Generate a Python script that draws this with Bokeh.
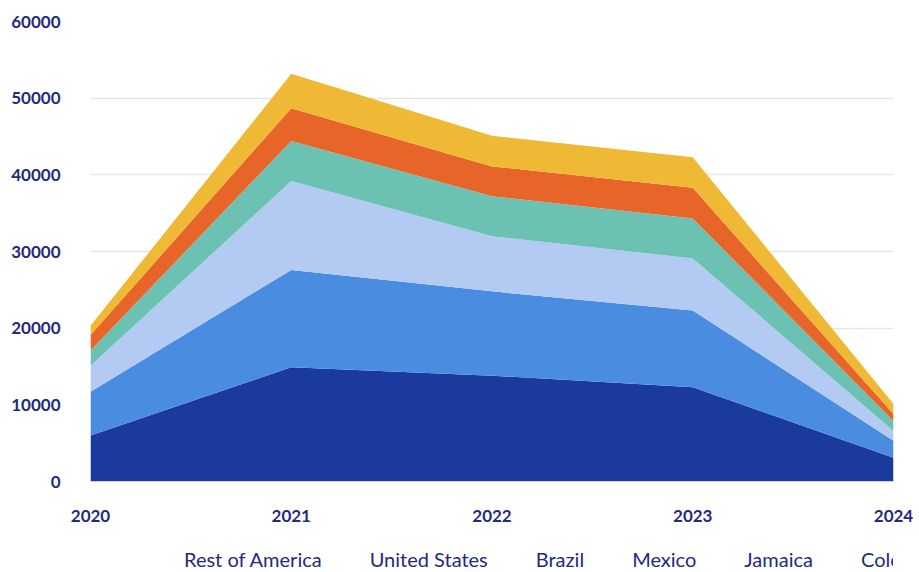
from bokeh.plotting import figure
from bokeh.layouts import column
from bokeh.models import Legend, LegendItem, FixedTicker, NumeralTickFormatter, ColumnDataSource
from bokeh.embed import file_html
from bokeh.resources import INLINE

years = [2020, 2021, 2022, 2023, 2024]
series_names = ["Rest of America", "United States", "Brazil", "Mexico", "Jamaica", "Colombia"]
rest_of_america = [6000, 14900, 13800, 12300, 3100]
united_states = [5700, 12700, 11000, 10000, 2200]
brazil = [3400, 11600, 7200, 6800, 1300]
mexico = [2000, 5200, 5200, 5200, 1300]
jamaica = [2000, 4300, 3900, 4000, 900]
colombia = [1200, 4500, 4000, 4000, 1300]
colors = ["#1a3a9e", "#4a8de0", "#b3caf2", "#6cc2b2", "#e8652a", "#f0b935"]
y_ticks = [0, 10000, 20000, 30000, 40000, 50000, 60000]

data = {"year": years}
for name, vals in zip(series_names, [rest_of_america, united_states, brazil, mexico, jamaica, colombia]):
    data[name] = vals
source = ColumnDataSource(data)

p = figure(width=919, height=535, output_backend="svg", toolbar_location=None,
           x_range=(2020, 2024), y_range=(0, 60000),
           min_border_left=90, min_border_right=26, min_border_top=21, min_border_bottom=54)
p.outline_line_color = None

renderers = p.varea_stack(stackers=series_names, x="year", color=colors, source=source)

p.xaxis.ticker = FixedTicker(ticks=years)
p.yaxis.ticker = FixedTicker(ticks=y_ticks)
p.yaxis.formatter = NumeralTickFormatter(format="0")
for ax in (p.xaxis, p.yaxis):
    ax.axis_line_color = None
    ax.major_tick_line_color = None
    ax.minor_tick_line_color = None
    ax.major_label_text_font = "Lato"
    ax.major_label_text_font_style = "bold"
    ax.major_label_text_font_size = "17px"
    ax.major_label_text_color = "#1f2a80"
p.xaxis.major_label_standoff = 22
p.yaxis.major_label_standoff = 24
p.xgrid.grid_line_color = None
p.ygrid.grid_line_color = "#e6e6e6"
p.ygrid.grid_line_width = 1.5

# Legend lives in its own small figure below the chart
lg = figure(width=919, height=38, output_backend="svg", toolbar_location=None,
            x_axis_type=None, y_axis_type=None, x_range=(0, 1), y_range=(0, 1),
            min_border_left=0, min_border_right=0, min_border_top=0, min_border_bottom=0)
lg.outline_line_color = None
lg.xgrid.grid_line_color = None
lg.ygrid.grid_line_color = None
key_renderers = [lg.varea(x=[], y1=[], y2=[], color=c) for c in colors]
items = [LegendItem(label=n, renderers=[r]) for n, r in zip(series_names, key_renderers)]
legend = Legend(items=items, orientation="horizontal", location=(74, 2),
                label_text_font="Lato", label_text_font_size="20px", label_text_color="#1f2a80",
                glyph_width=12, glyph_height=12, spacing=28, label_standoff=8,
                border_line_color=None, background_fill_alpha=0, padding=0, margin=0)
lg.add_layout(legend, "center")

layout = column(p, lg, spacing=0)
open("out.html", "w").write(file_html(layout, INLINE))
